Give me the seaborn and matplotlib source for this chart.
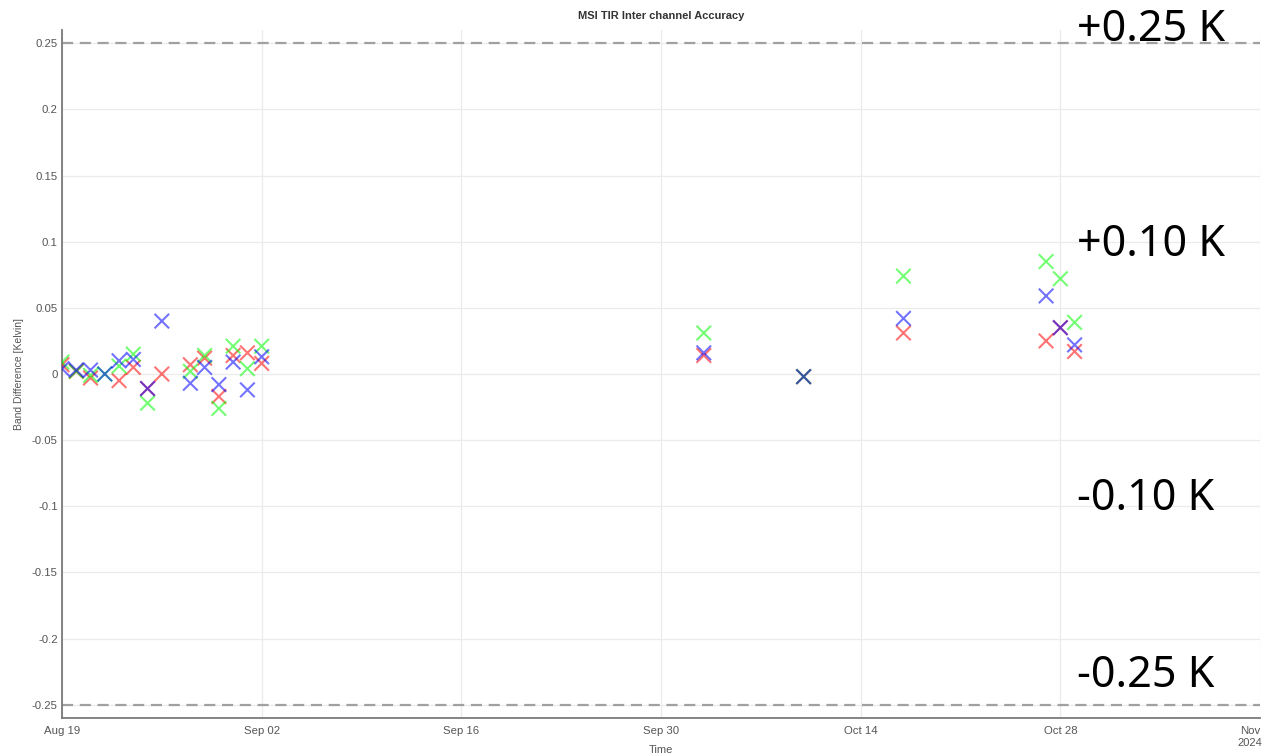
import matplotlib
matplotlib.use("Agg")
import matplotlib.pyplot as plt
import numpy as np
import pandas as pd
import seaborn as sns
from matplotlib.ticker import FixedLocator, FuncFormatter

# Acquisition dates of the inter-channel comparisons
dates = [
    "2024-08-19", "2024-08-20", "2024-08-21", "2024-08-22", "2024-08-23",
    "2024-08-24", "2024-08-25", "2024-08-26", "2024-08-28", "2024-08-29",
    "2024-08-30", "2024-08-31", "2024-09-01", "2024-09-02", "2024-10-03",
    "2024-10-10", "2024-10-17", "2024-10-27", "2024-10-28", "2024-10-29",
]
# Band differences in Kelvin, one list per channel pair
red = [0.007, 0.002, -0.003, np.nan, -0.005, 0.005, -0.011, 0.000, 0.007, 0.012,
       -0.017, 0.014, 0.016, 0.008, 0.014, -0.002, 0.031, 0.025, 0.035, 0.017]
green = [0.009, 0.002, -0.001, 0.000, 0.006, 0.015, -0.022, np.nan, 0.002, 0.014,
         -0.026, 0.021, 0.004, 0.021, 0.031, -0.002, 0.074, 0.085, 0.072, 0.039]
blue = [0.004, 0.003, 0.003, 0.000, 0.010, 0.011, -0.011, 0.040, -0.007, 0.005,
        -0.008, 0.009, -0.012, 0.013, 0.016, -0.002, 0.042, 0.059, 0.035, 0.022]

x_ticks = ["2024-08-19", "2024-09-02", "2024-09-16", "2024-09-30",
           "2024-10-14", "2024-10-28", "2024-11-11"]
x_tick_labels = ["Aug 19", "Sep 02", "Sep 16", "Sep 30", "Oct 14", "Oct 28", "Nov"]
y_ticks = [-0.25, -0.2, -0.15, -0.1, -0.05, 0, 0.05, 0.1, 0.15, 0.2, 0.25]
limit_labels = ["+0.25 K", "+0.10 K", "-0.10 K", "-0.25 K"]

sns.set_theme(style="white")
plt.rcParams["font.family"] = ["Liberation Sans", "DejaVu Sans"]

df = pd.DataFrame({"date": pd.to_datetime(dates), "red": red, "green": green, "blue": blue})
long = df.melt(id_vars="date", var_name="band", value_name="diff").dropna()

W, H = 1264, 754
fig = plt.figure(figsize=(W / 100, H / 100), dpi=100)
ax = fig.add_axes([62 / W, (H - 718) / H, (1260 - 62) / W, (718 - 30) / H])

palette = {"red": "#ff0000", "green": "#00ff00", "blue": "#0000ff"}
sns.scatterplot(data=long, x="date", y="diff", hue="band", palette=palette,
                marker="x", s=110, linewidth=1.5, alpha=0.55, legend=False,
                ax=ax, zorder=3)

# Tolerance limits
for v in (0.25, -0.25):
    ax.axhline(v, color="#a0a0a0", lw=1.6, ls=(0, (5, 3)), zorder=2)

ax.set_xlim(pd.Timestamp("2024-08-19"), pd.Timestamp("2024-11-11"))
ax.set_ylim(-0.26, 0.26)

xt = pd.to_datetime(x_ticks)
ax.set_xticks(xt)
ax.set_xticklabels(x_tick_labels)
ax.get_xticklabels()[-1].set_horizontalalignment("right")
ax.yaxis.set_major_locator(FixedLocator(y_ticks))
ax.yaxis.set_major_formatter(FuncFormatter(lambda v, p: f"{v:g}" if abs(v) > 1e-9 else "0"))

ax.grid(True, color="#ebebeb", lw=0.9, zorder=0)
for side in ("top", "right"):
    ax.spines[side].set_visible(False)
for side in ("left", "bottom"):
    ax.spines[side].set_color("#7a7a7a")
    ax.spines[side].set_linewidth(1.3)
ax.tick_params(direction="in", length=7, width=1.0, color="#7a7a7a",
               labelsize=8.2, labelcolor="#555555")
ax.tick_params(axis="y", pad=3)
ax.tick_params(axis="x", pad=6)

ax.set_xlabel("Time", fontsize=8, color="#555555", labelpad=6)
ax.set_ylabel("Band Difference [Kelvin]", fontsize=7.5, color="#555555")
ax.yaxis.set_label_coords((24 - 62) / (1260 - 62), 0.5)
ax.set_title("MSI TIR Inter channel Accuracy", fontsize=8, fontweight="bold",
             color="#333333", pad=8)

fig.text(1262 / W, (H - 746) / H, "2024", fontsize=8, color="#555555",
         ha="right", va="baseline")

# Reference limit annotations
baselines = [41, 256, 510, 687]
for label, yb in zip(limit_labels, baselines):
    fig.text(1077 / W, (H - yb) / H, label, fontsize=31, color="black",
             ha="left", va="baseline", family=["Noto Sans", "DejaVu Sans"])

fig.savefig("out.png", dpi=100)
